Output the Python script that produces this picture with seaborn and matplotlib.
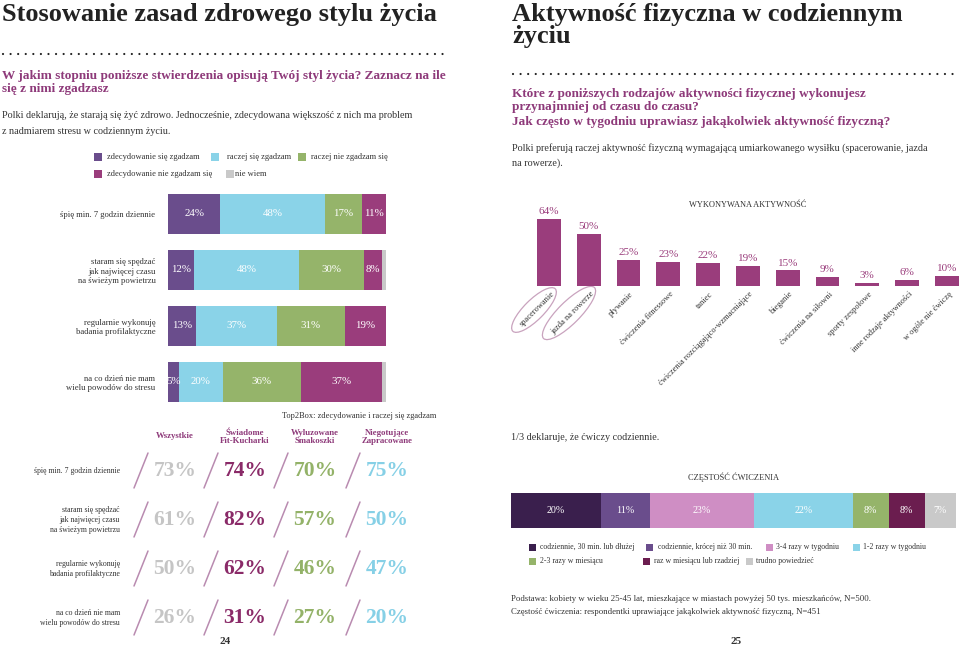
import numpy as np
import pandas as pd
import matplotlib
matplotlib.use("Agg")
import matplotlib.pyplot as plt
import matplotlib.transforms as mtransforms
from matplotlib.patches import Ellipse, Rectangle
import seaborn as sns

# ---------------- data ----------------
statements = ["śpię min. 7 godzin dziennie",
              "staram się spędzać\njak najwięcej czasu\nna świeżym powietrzu",
              "regularnie wykonuję\nbadania profilaktyczne",
              "na co dzień nie mam\nwielu powodów do stresu"]
agree_levels = ["zdecydowanie się zgadzam", "raczej się zgadzam", "raczej nie zgadzam się",
                "zdecydowanie nie zgadzam się", "nie wiem"]
strongly_agree = [24, 12, 13, 5]
rather_agree = [48, 48, 37, 20]
rather_disagree = [17, 30, 31, 36]
strongly_disagree = [11, 8, 19, 37]
dont_know = [0, 2, 1, 2]

segments = ["Wszystkie", "Świadome\nFit-Kucharki", "Wyluzowane\nSmakoszki", "Niegotujące\nZapracowane"]
top2_all = [73, 61, 50, 26]
top2_fit = [74, 82, 62, 31]
top2_relaxed = [70, 57, 46, 27]
top2_busy = [75, 50, 47, 20]

activities = ["spacerowanie", "jazda na rowerze", "pływanie", "ćwiczenia fitnessowe", "taniec",
              "ćwiczenia rozciągająco-wzmacniające", "bieganie", "ćwiczenia na siłowni",
              "sporty zespołowe", "inne rodzaje aktywności", "w ogóle nie ćwiczę"]
activity_pct = [64, 50, 25, 23, 22, 19, 15, 9, 3, 6, 10]

freq_labels = ["codziennie, 30 min. lub dłużej", "codziennie, krócej niż 30 min.",
               "3-4 razy w tygodniu", "1-2 razy w tygodniu", "2-3 razy w miesiącu",
               "raz w miesiącu lub rzadziej", "trudno powiedzieć"]
freq_pct = [20, 11, 23, 22, 8, 8, 7]

# ---------------- style ----------------
sns.set_theme(style="white")
plt.rcParams['font.family'] = ['Liberation Serif', 'DejaVu Serif']

C_PURPLE = "#6a4d8c"
C_BLUE = "#8ad3e8"
C_GREEN = "#95b46a"
C_MAGENTA = "#9a3d7c"
C_GREY = "#c9c9c9"
agree_colors = [C_PURPLE, C_BLUE, C_GREEN, C_MAGENTA, C_GREY]
freq_colors = ["#3a1f4d", C_PURPLE, "#cf8ec4", C_BLUE, C_GREEN, "#6b1d4f", C_GREY]
seg_colors = ["#c5c5c5", "#8a2a68", "#93b268", "#86d0e6"]
Q_COLOR = "#8e3a7a"
TXT = "#333333"

W, H = 960, 646
fig = plt.figure(figsize=(W / 100, H / 100), dpi=100)
fig.patch.set_facecolor("white")


def px_axes(left, top, width, height):
    a = fig.add_axes([left / W, 1 - (top + height) / H, width / W, height / H])
    a.patch.set_alpha(0)
    return a


ov = px_axes(0, 0, W, H)
ov.set_xlim(0, W)
ov.set_ylim(H, 0)
ov.axis("off")


def t(x, y, s, size, color=TXT, **kw):
    kw.setdefault("va", "center")
    return ov.text(x, y, s, fontsize=size, color=color, **kw)


def dots(x0, x1, y):
    ov.plot([x0, x1], [y, y], color="#222222", lw=1.6, linestyle=(0, (0.01, 3.4)),
            dash_capstyle="round")


# ================= LEFT PAGE =================
t(2, 21, "Stosowanie zasad zdrowego stylu życia", 19, "#222222", va="baseline", fontweight="bold")
dots(3, 450, 53.5)
t(2, 76, "W jakim stopniu poniższe stwierdzenia opisują Twój styl życia? Zaznacz na ile", 9.5,
  Q_COLOR, fontweight="bold")
t(2, 89, "się z nimi zgadzasz", 9.5, Q_COLOR, fontweight="bold")
t(2, 116, "Polki deklarują, że starają się żyć zdrowo. Jednocześnie, zdecydowana większość z nich ma problem", 7.3)
t(2, 131, "z nadmiarem stresu w codziennym życiu.", 7.3)

# legend (manual)
leg_pos = [(94, 157, 107), (211, 157, 227), (298, 157, 311), (94, 174, 107), (226, 174, 235)]
for (sx, sy, tx), lab, col in zip(leg_pos, agree_levels, agree_colors):
    ov.add_patch(Rectangle((sx, sy - 4), 8, 8, color=col, lw=0))
    t(tx, sy, lab, 6.1)

# stacked bars
axL = px_axes(168, 186, 218, 224)
stack = np.array([strongly_agree, rather_agree, rather_disagree, strongly_disagree, dont_know])
cum = np.cumsum(stack, axis=0)
for i in reversed(range(len(agree_levels))):
    sns.barplot(x=cum[i], y=statements, orient="h", color=agree_colors[i], saturation=1,
                width=0.714, errorbar=None, linewidth=0, ax=axL)
for i in range(4):
    for j in range(len(statements)):
        v = stack[i, j]
        if v > 0:
            axL.text(cum[i, j] - v / 2, j, f"{v}%", ha="center", va="center", color="white",
                     fontsize=7.8)
axL.set_xlim(0, 100)
axL.set_xticks([])
axL.set_xlabel("")
axL.set_ylabel("")
axL.tick_params(axis="y", length=0, pad=9, labelsize=6.2, labelcolor=TXT)
for lab in axL.get_yticklabels():
    lab.set_multialignment("right")
sns.despine(ax=axL, left=True, bottom=True)

# Top2Box table
t(282, 416, "Top2Box: zdecydowanie i raczej się zgadzam", 6)
col_x = [175, 245, 315, 387]
row_y = [471, 520, 569, 618]
for cx, seg in zip(col_x, segments):
    y = 436 if "\n" not in seg else 437
    t(cx, y, seg, 6.3, Q_COLOR, ha="center", fontweight="bold", linespacing=0.95)
for r, lab in enumerate(statements):
    t(120, row_y[r], lab, 5.6, ha="right", multialignment="right", linespacing=1.35)
for c, vals in enumerate([top2_all, top2_fit, top2_relaxed, top2_busy]):
    for r, v in enumerate(vals):
        sx = col_x[c] - 34
        ov.plot([sx - 7, sx + 7], [row_y[r] + 17, row_y[r] - 18], color="#b98bb0", lw=1.1)
        t(col_x[c], row_y[r], f"{v}%", 15.5, seg_colors[c], ha="center", fontweight="bold")
t(225, 642, "24", 8, TXT, ha="center", fontweight="bold")

# ================= RIGHT PAGE =================
t(512, 3, "Aktywność fizyczna w codziennym\nżyciu", 19, "#222222", va="top", fontweight="bold",
  linespacing=0.95)
dots(513, 958, 73.5)
t(512, 94, "Które z poniższych rodzajów aktywności fizycznej wykonujesz", 9.5, Q_COLOR, fontweight="bold")
t(512, 107, "przynajmniej od czasu do czasu?", 9.5, Q_COLOR, fontweight="bold")
t(512, 122, "Jak często w tygodniu uprawiasz jakąkolwiek aktywność fizyczną?", 9.5, Q_COLOR,
  fontweight="bold")
t(512, 148, "Polki preferują raczej aktywność fizyczną wymagającą umiarkowanego wysiłku (spacerowanie, jazda", 7.3)
t(512, 163, "na rowerze).", 7.3)

t(748, 205, "WYKONYWANA AKTYWNOŚĆ", 6, ha="center")
axA = px_axes(529, 200, 431, 86)
sns.barplot(x=activities, y=activity_pct, color=C_MAGENTA, saturation=1, width=0.6,
            errorbar=None, linewidth=0, ax=axA)
axA.set_xlim(-0.5, 10.33)
axA.set_ylim(0, 82)
axA.set_xticks([])
axA.set_yticks([])
axA.set_xlabel("")
axA.set_ylabel("")
sns.despine(ax=axA, left=True, bottom=True)
for i, v in enumerate(activity_pct):
    axA.text(i, v + 2.5, f"{v}%", ha="center", va="bottom", color=C_MAGENTA, fontsize=8)
lab_tr = mtransforms.offset_copy(axA.transData, fig=fig, x=4, y=-7, units="dots")
for i, name in enumerate(activities):
    axA.text(i, 0, name, transform=lab_tr, rotation=45, rotation_mode="anchor", ha="right",
             va="center", fontsize=6, color=TXT, clip_on=False)
ov.add_patch(Ellipse((534, 310), 60, 20, angle=-45, fill=False, ec="#c9a3be", lw=0.9))
ov.add_patch(Ellipse((569, 313), 72, 22, angle=-45, fill=False, ec="#c9a3be", lw=0.9))

t(511, 437, "1/3 deklaruje, że ćwiczy codziennie.", 7.3)
t(733, 477, "CZĘSTOŚĆ ĆWICZENIA", 6, ha="center")

axF = px_axes(511, 493, 445, 35)
cumF = np.cumsum(freq_pct)
for i in reversed(range(len(freq_pct))):
    sns.barplot(x=[cumF[i]], y=["wszystkie"], orient="h", color=freq_colors[i], saturation=1,
                width=1.0, errorbar=None, linewidth=0, ax=axF)
for i, v in enumerate(freq_pct):
    axF.text(cumF[i] - v / 2, 0, f"{v}%", ha="center", va="center", color="white", fontsize=7.2)
axF.set_xlim(0, sum(freq_pct))
axF.set_ylim(0.5, -0.5)
axF.set_xticks([])
axF.set_yticks([])
axF.set_xlabel("")
axF.set_ylabel("")
sns.despine(ax=axF, left=True, bottom=True)
ov.add_patch(Ellipse((591.5, 511), 113, 22, fill=False, ec="white", lw=1.0))

fleg = [(529, 547, 540), (646, 547, 658), (766, 547, 776), (853, 547, 863),
        (529, 561, 540), (643, 561, 654), (746, 561, 756)]
for (sx, sy, tx), lab, col in zip(fleg, freq_labels, freq_colors):
    ov.add_patch(Rectangle((sx, sy - 3.5), 7, 7, color=col, lw=0))
    t(tx, sy, lab, 5.6)

t(511, 599, "Podstawa: kobiety w wieku 25-45 lat, mieszkające w miastach powyżej 50 tys. mieszkańców, N=500.", 6.3)
t(511, 612, "Częstość ćwiczenia: respondentki uprawiające jakąkolwiek aktywność fizyczną, N=451", 6.3)
t(736, 642, "25", 8, TXT, ha="center", fontweight="bold")

fig.savefig("out.png", dpi=100, facecolor="white")
